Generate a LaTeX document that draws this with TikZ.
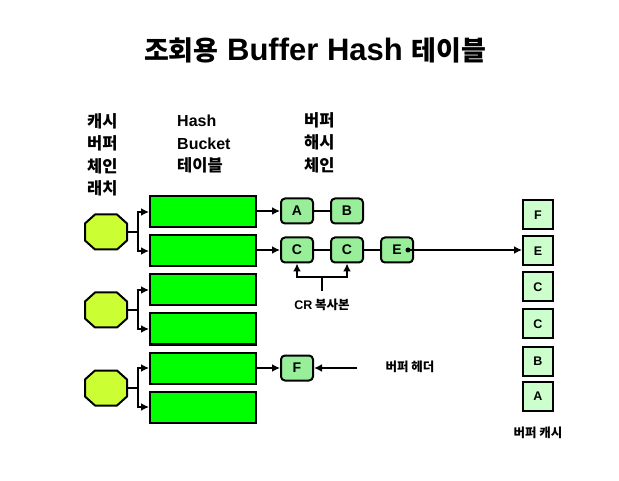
\documentclass[tikz,border=0pt]{standalone}
\usepackage{fontspec}
\setmainfont{Liberation Sans}
\newfontfamily\kr{Noto Sans CJK KR}
\usetikzlibrary{arrows.meta}
\definecolor{bucketgreen}{HTML}{00FF00}
\definecolor{latchgreen}{HTML}{CCFF33}
\definecolor{hdrgreen}{HTML}{99EE99}
\definecolor{cachegreen}{HTML}{CCFFCC}
\tikzset{
  bucket/.style={draw,line width=2pt,fill=bucketgreen,minimum width=106pt,
    minimum height=31pt,inner sep=0pt},
  latch/.style={minimum width=42pt,minimum height=35pt,inner sep=0pt,outer sep=0pt},
  octline/.style={draw,line width=2pt,fill=latchgreen,line join=round},
  bufhdr/.style={draw,line width=2pt,fill=hdrgreen,rounded corners=4pt,
    minimum width=32pt,minimum height=25pt,inner sep=0pt,
    font=\bfseries\fontsize{14}{16}\selectfont},
  cachebuf/.style={draw,line width=2pt,fill=cachegreen,minimum width=30pt,
    minimum height=29pt,inner sep=0pt,font=\bfseries\fontsize{12.5}{14}\selectfont},
  heading/.style={anchor=north west,align=left,inner sep=0pt,
    font=\bfseries\fontsize{16}{22.5}\selectfont},
  krheading/.style={heading,font=\kr\bfseries\fontsize{16.5}{22.5}\selectfont},
  small/.style={inner sep=1pt,font=\kr\bfseries\fontsize{12.5}{14}\selectfont},
  conn/.style={line width=2pt},
  tip/.style={-{Latex[length=8pt,width=8pt]}}
}
\begin{document}
\begin{tikzpicture}[x=1pt,y=-1pt]
      \useasboundingbox (0,0) rectangle (619,481) ;
      \node[font=\bfseries\fontsize{31}{34}\selectfont] (title) at (315,50) %
      {{\kr\fontsize{27}{30}\selectfont 조회용} Buffer Hash {\kr\fontsize{27}{30}\selectfont 테이블}} ;
      % column headings
      \node[krheading] (latchlbl) at (87,113) {캐시\\버퍼\\체인\\래치} ;
      \node[heading] (hashlbl) at (177,115) %
      {Hash\\Bucket\\{\kr\fontsize{16.5}{22.5}\selectfont 테이블}} ;
      \node[krheading] (chainlbl) at (304,112) {버퍼\\해시\\체인} ;
      % hash buckets and latches
      \foreach \i/\y in {1/212,2/251,3/290,4/329,5/368,6/407}
        \node[bucket] (b\i) at (203,\y) {} ;
      \foreach \l/\y in {1/232,2/310,3/388} {
        \node[latch] (l\l) at (106,\y) {} ;
        \path[octline] ([xshift=10pt]l\l.north west) -- ([xshift=-10pt]l\l.north east)
          -- ([yshift=-9pt]l\l.north east) -- ([yshift=9pt]l\l.south east)
          -- ([xshift=-10pt]l\l.south east) -- ([xshift=10pt]l\l.south west)
          -- ([yshift=9pt]l\l.south west) -- ([yshift=-9pt]l\l.north west) -- cycle ;
      }
      \foreach \l/\a/\b in {1/1/2,2/3/4,3/5/6} {
        \draw[conn,tip] (l\l.east) -- ++(11,0) |- (b\a.west) ;
        \draw[conn,tip] (l\l.east) -- ++(11,0) |- (b\b.west) ;
      }
      % buffer hash chains
      \node[bufhdr] (A) at (297,211) {A} ;
      \node[bufhdr] (B) at (347,211) {B} ;
      \node[bufhdr] (C1) at (297,250) {C} ;
      \node[bufhdr] (C2) at (347,250) {C} ;
      \node[bufhdr] (E) at (397,250) {E} ;
      \node[bufhdr] (F) at (297,368) {F} ;
      \draw[conn,tip] (b1.east |- A) -- (A.west) ;
      \draw[conn,tip] (b2.east |- C1) -- (C1.west) ;
      \draw[conn,tip] (b5.east) -- (F.west) ;
      \draw[conn] (A) -- (B) ;
      \draw[conn] (C1) -- (C2) -- (E) ;
      % CR copies
      \node[small] (crlbl) at (322,305) {{\fontspec{Liberation Sans}\fontsize{12.5}{14}\selectfont CR} 복사본} ;
      \coordinate (crj) at (322,277) ;
      \draw[conn,tip] (crlbl.north) ++(0,-7) -- (crj) -| (C1.south) ;
      \draw[conn,tip] (crj) -| (C2.south) ;
      % buffer header
      \node[small] (hdrlbl) at (410,367) {버퍼 헤더} ;
      \coordinate (hdrtail) at (357,368) ;
      \draw[conn,tip] (hdrtail) -- (F.east) ;
      % buffer cache
      \foreach \n/\t/\y in {cF/F/215,cE/E/251,cC1/C/287,cC2/C/324,cB/B/361,cA/A/396}
        \node[cachebuf] (\n) at (538,\y) {\t} ;
      \node[small] (cachelbl) at (538,433) {버퍼 캐시} ;
      \coordinate (edot) at ([xshift=-6pt]E.east) ;
      \fill (edot) circle (2.5) ;
      \draw[conn,tip] (edot) -- (cE.west |- edot) ;
    \end{tikzpicture}
\end{document}
